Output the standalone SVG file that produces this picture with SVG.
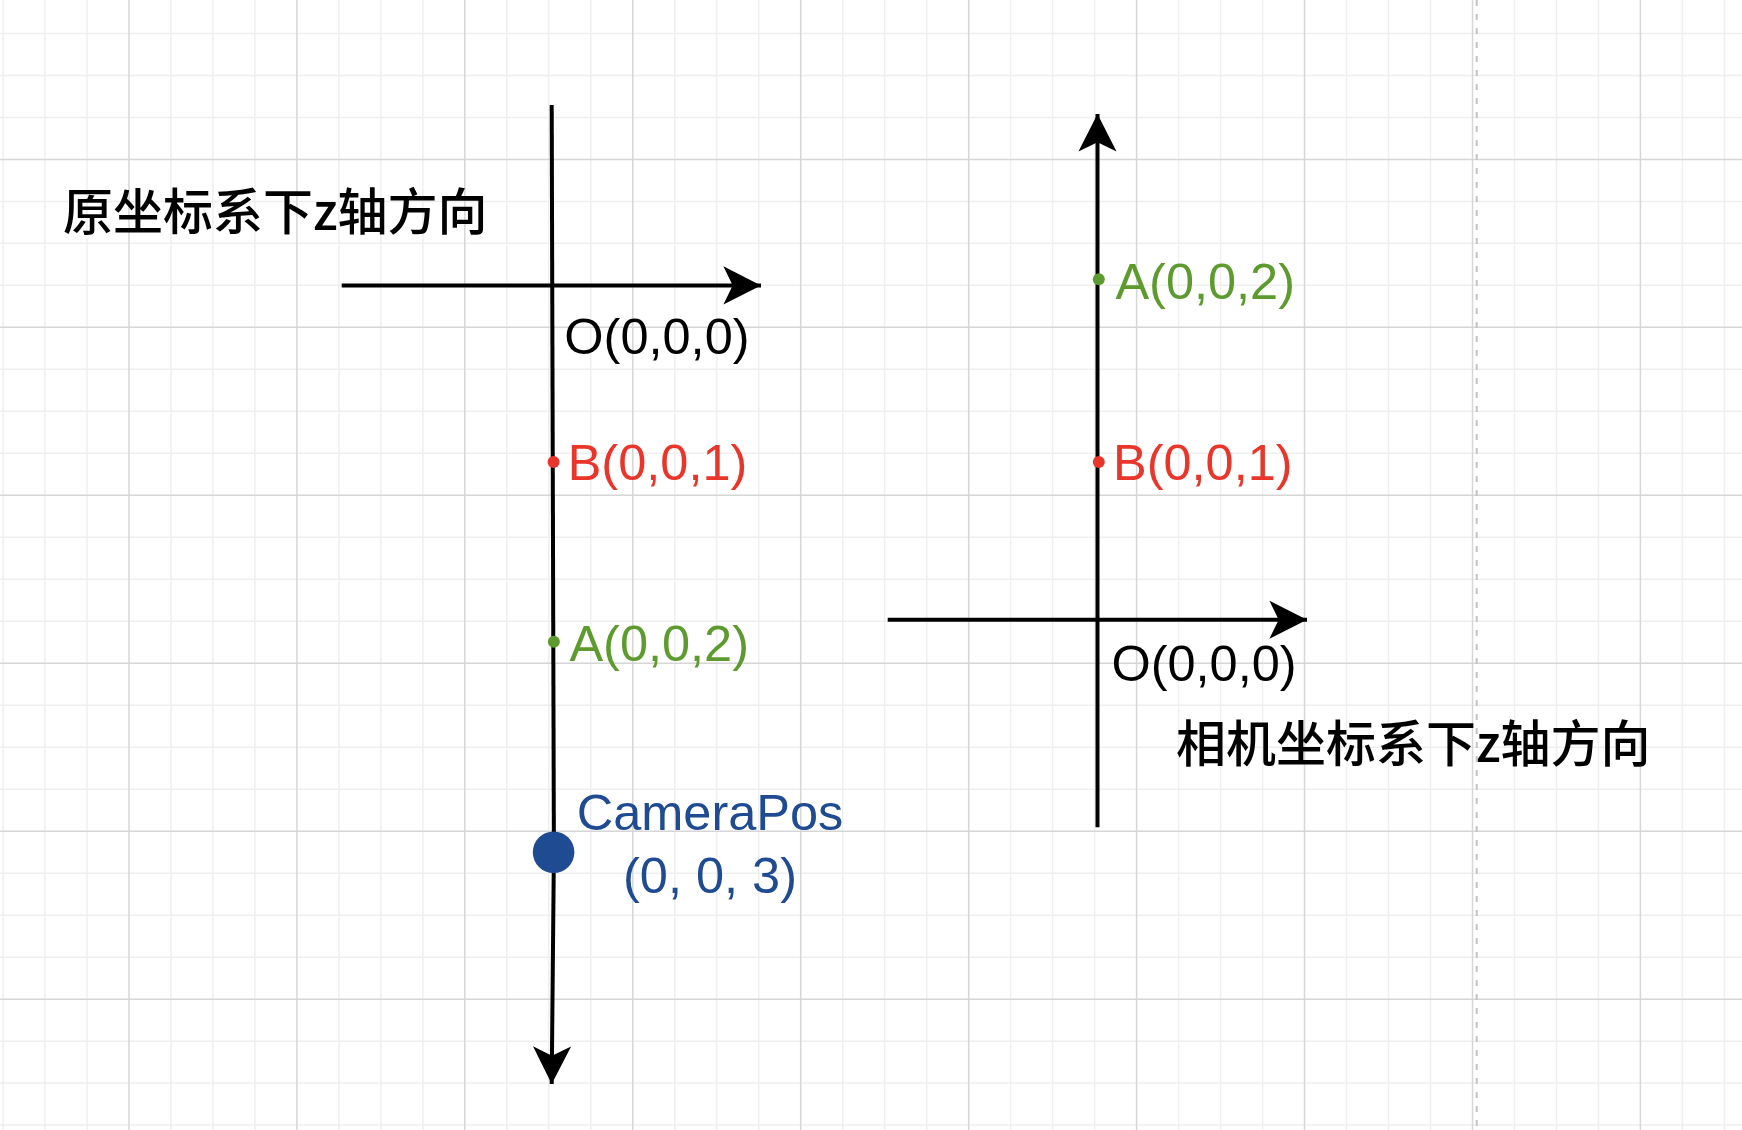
<svg xmlns="http://www.w3.org/2000/svg" width="1742" height="1130" viewBox="0 0 1742 1130">
<style>
.minor{stroke:#efefef;stroke-width:1.5;fill:none}
.major{stroke:#d6d6d6;stroke-width:1.5;fill:none}
.page{stroke:#c4c4c4;stroke-width:2;stroke-dasharray:6 8;fill:none}
.axis{stroke:#000;stroke-width:4;fill:none}
.lbl{font-family:"Liberation Sans",Arial,"Noto Sans CJK SC",sans-serif;font-size:50.5px}
.cjk{font-family:"Noto Sans CJK SC","Liberation Sans",sans-serif;font-size:50px;font-weight:500;fill:#000}
.red{fill:#E9352A}
.green{fill:#5E9B2E}
.blue{fill:#1F4B93}
</style>
<defs>
<marker id="arr" markerUnits="userSpaceOnUse" markerWidth="42" markerHeight="42" viewBox="-41 -21 43 42" refX="0" refY="0" orient="auto">
<path d="M0 0L-38.5 -19.5L-29 0L-38.5 19.5Z" fill="#000"/>
</marker>
</defs>
<rect width="1742" height="1130" fill="#fff"/>
<g id="grid">
<path class="minor" d="M3 0V1130M45 0V1130M87 0V1130M170.9 0V1130M212.9 0V1130M254.9 0V1130M338.9 0V1130M380.9 0V1130M422.9 0V1130M506.8 0V1130M548.8 0V1130M590.8 0V1130M674.8 0V1130M716.8 0V1130M758.7 0V1130M842.7 0V1130M884.7 0V1130M926.7 0V1130M1010.6 0V1130M1052.6 0V1130M1094.6 0V1130M1178.6 0V1130M1220.6 0V1130M1262.6 0V1130M1346.5 0V1130M1388.5 0V1130M1430.5 0V1130M1514.5 0V1130M1556.5 0V1130M1598.4 0V1130M1682.4 0V1130M1724.4 0V1130M0 33.4H1742M0 75.4H1742M0 117.4H1742M0 201.4H1742M0 243.3H1742M0 285.3H1742M0 369.3H1742M0 411.3H1742M0 453.3H1742M0 537.3H1742M0 579.3H1742M0 621.3H1742M0 705.2H1742M0 747.2H1742M0 789.2H1742M0 873.2H1742M0 915.2H1742M0 957.2H1742M0 1041.2H1742M0 1083.1H1742M0 1125.1H1742"/>
<path class="major" d="M129 0V1130M296.9 0V1130M464.8 0V1130M632.8 0V1130M800.7 0V1130M968.7 0V1130M1136.6 0V1130M1304.5 0V1130M1472.5 0V1130M1640.4 0V1130M0 159.4H1742M0 327.3H1742M0 495.3H1742M0 663.2H1742M0 831.2H1742M0 999.2H1742"/>
<path class="page" d="M1476.7 0V1130"/>
</g>
<g id="connectors">
<path id="left-z-upper" class="axis" d="M551.7 105L553.9 852"/>
<path id="left-z-lower" class="axis" d="M553.9 852L551.7 1084" marker-end="url(#arr)"/>
<path id="left-x" class="axis" d="M341.7 285.4H761" marker-end="url(#arr)"/>
<path id="right-z" class="axis" d="M1097.5 827.3V114" marker-end="url(#arr)"/>
<path id="right-x" class="axis" d="M887.7 619.8H1307" marker-end="url(#arr)"/>
</g>
<g id="title-left"><text class="cjk" x="63" y="230">原坐标系下z轴方向</text></g>
<g id="title-right"><text class="cjk" x="1176" y="762">相机坐标系下z轴方向</text></g>
<g id="left-O"><text class="lbl" x="564.3" y="354" fill="#000">O(0,0,0)</text></g>
<g id="left-B"><circle class="red" cx="553.6" cy="462" r="6"/><text class="lbl red" x="567.7" y="480">B(0,0,1)</text></g>
<g id="left-A"><circle class="green" cx="553.9" cy="641.8" r="6"/><text class="lbl green" x="569.4" y="660.5">A(0,0,2)</text></g>
<g id="camera"><circle class="blue" cx="553.6" cy="852.3" r="20.8"/><text class="lbl blue" text-anchor="middle"><tspan x="710" y="830">CameraPos</tspan><tspan x="710" y="893">(0, 0, 3)</tspan></text></g>
<g id="right-A"><circle class="green" cx="1098.8" cy="279.3" r="6"/><text class="lbl green" x="1115.4" y="299">A(0,0,2)</text></g>
<g id="right-B"><circle class="red" cx="1098.8" cy="462" r="6"/><text class="lbl red" x="1113" y="479.5">B(0,0,1)</text></g>
<g id="right-O"><text class="lbl" x="1111.4" y="681" fill="#000">O(0,0,0)</text></g>
</svg>
